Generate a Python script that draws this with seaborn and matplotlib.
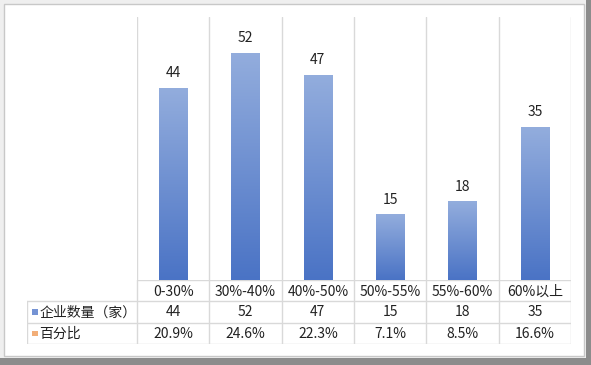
import numpy as np
import pandas as pd
import matplotlib
matplotlib.use("Agg")
import matplotlib.pyplot as plt
import seaborn as sns
from matplotlib.patches import Rectangle
from matplotlib.colors import LinearSegmentedColormap

# data
categories = ["0-30%", "30%-40%", "40%-50%", "50%-55%", "55%-60%", "60%以上"]
counts = [44, 52, 47, 15, 18, 35]
percents = ["20.9%", "24.6%", "22.3%", "7.1%", "8.5%", "16.6%"]
row_names = ["企业数量（家）", "百分比"]

df = pd.DataFrame({"range": categories, "count": counts})

sns.set_theme(style="white")
plt.rcParams["font.family"] = ["Noto Sans CJK SC", "DejaVu Sans"]

W, H = 591, 365
fig = plt.figure(figsize=(W / 100, H / 100), dpi=100)
fig.patch.set_facecolor("#EFEFEF")

def px_rect(x0, y0, x1, y1, **kw):
    # rectangle in pixel coords (top-left origin) -> figure coords, behind the axes
    fig.patches.append(Rectangle((x0 / W, 1 - y1 / H), (x1 - x0) / W, (y1 - y0) / H,
                                 transform=fig.transFigure, figure=fig, zorder=-5, **kw))

# window frame: white card, grey shadow at bottom / right
px_rect(586, 0, 591, 365, facecolor="#8C8C8C", edgecolor="none")
px_rect(0, 358, 591, 365, facecolor="#8C8C8C", edgecolor="none")
px_rect(3.5, 3.5, 584, 356, facecolor="white", edgecolor="#C8C8C8", linewidth=1)

grid_c = "#D9D9D9"
txt_c = "#222222"
col_w = (571 - 137) / 6
head_w = (137 - 27) / col_w

# ---------------- bars ----------------
ax = fig.add_axes([137 / W, 1 - 280 / H, (571 - 137) / W, (280 - 17) / H])
ax.set_facecolor("none")
sns.barplot(data=df, x="range", y="count", color="#6F8FD2", width=0.39, ax=ax)
for s in ax.spines.values():
    s.set_visible(False)
ax.set_xticks([])
ax.set_yticks([])
ax.set_xlabel("")
ax.set_ylabel("")
for k in range(7):
    ax.axvline(k - 0.5, color=grid_c, linewidth=1, zorder=0)

cmap = LinearSegmentedColormap.from_list("bar", ["#4A73C5", "#93ADDD"])
grad = np.linspace(0, 1, 256).reshape(-1, 1)
for p, v in zip(ax.patches, counts):
    x0, y0 = p.get_x(), p.get_y()
    w, h = p.get_width(), p.get_height()
    im = ax.imshow(grad, cmap=cmap, origin="lower", aspect="auto",
                   extent=[x0, x0 + w, y0, y0 + h], zorder=2)
    im.set_clip_path(p)
    p.set_facecolor("none")
    p.set_edgecolor("none")
    ax.annotate(str(v), (x0 + w / 2, h), xytext=(0, 5.5), textcoords="offset points",
                ha="center", va="bottom", fontsize=10, color=txt_c)
ax.set_xlim(-0.5, 5.5)
ax.set_ylim(0, 60.2)

# ---------------- data table ----------------
tb = fig.add_axes([27 / W, 1 - 344 / H, (571 - 27) / W, (344 - 280) / H])
tb.set_facecolor("none")
tb.set_xlim(-0.5 - head_w, 5.5)
tb.set_ylim(3, 0)
tb.axis("off")
lw = 1
tb.plot([-0.5, 5.5], [0, 0], color=grid_c, lw=lw)
for r in (1, 2, 3):
    tb.plot([-0.5 - head_w, 5.5], [r, r], color=grid_c, lw=lw)
for k in range(7):
    tb.plot([k - 0.5, k - 0.5], [0, 3], color=grid_c, lw=lw)
tb.plot([-0.5 - head_w, -0.5 - head_w], [1, 3], color=grid_c, lw=lw)

for i, cat in enumerate(categories):
    tb.text(i, 0.55, cat, ha="center", va="center", fontsize=10, color=txt_c)
    tb.text(i, 1.52, str(counts[i]), ha="center", va="center", fontsize=10, color=txt_c)
    tb.text(i, 2.52, percents[i], ha="center", va="center", fontsize=10, color=txt_c)

sq = 5.5 / col_w
for r, (name, c) in enumerate(zip(row_names, ["#7593D4", "#F2AE78"])):
    x_sq = -0.5 - head_w + 5 / col_w
    tb.add_patch(Rectangle((x_sq, r + 1.5 - 0.13), sq, 0.26, facecolor=c, edgecolor="none"))
    tb.text(x_sq + sq + 2 / col_w, r + 1.52, name, ha="left", va="center",
            fontsize=10, color=txt_c)

fig.savefig("out.png", dpi=100, facecolor=fig.get_facecolor())
